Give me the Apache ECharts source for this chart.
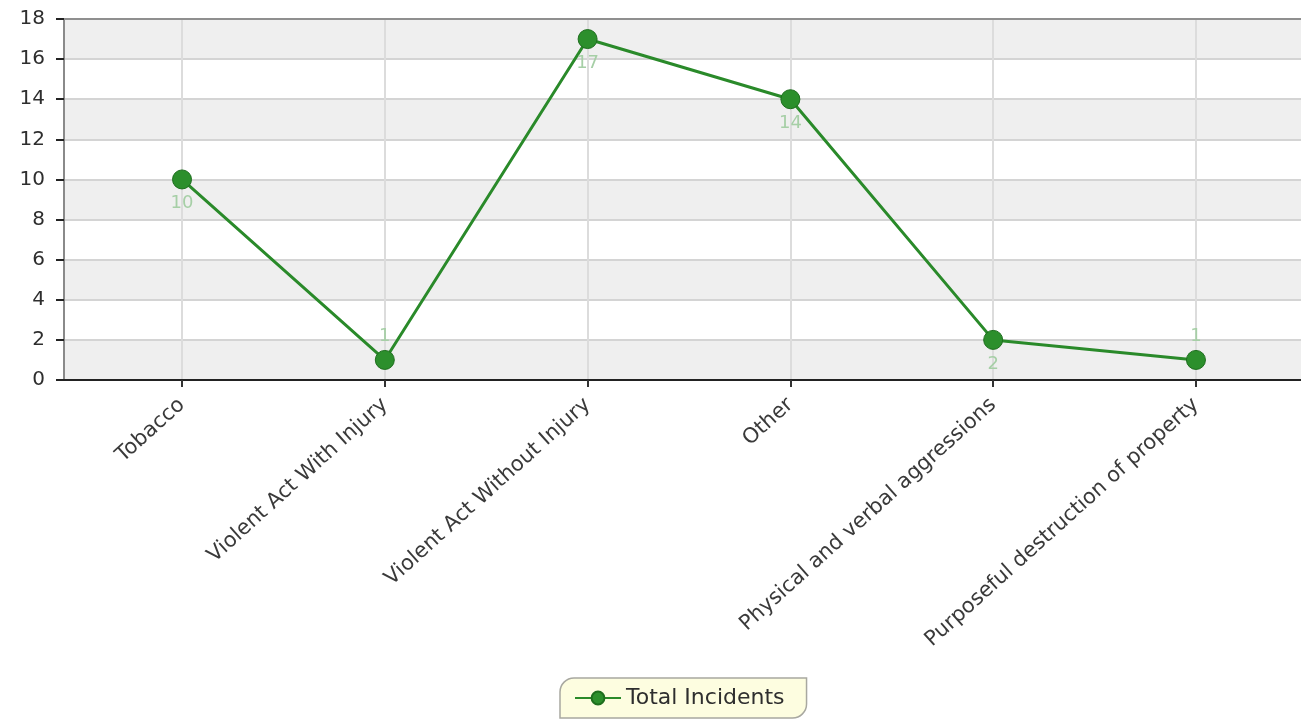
<!DOCTYPE html>
<html>
<head>
<meta charset="utf-8">
<title>Total Incidents</title>
<script src="https://cdn.jsdelivr.net/npm/echarts@6/dist/echarts.min.js"></script>
<style>
  html, body { margin: 0; padding: 0; background: #fff; }
  #chart { width: 1301px; height: 721px; }
</style>
</head>
<body>
<div id="chart"></div>
<script>
// Incident categories and counts
const categories = [
  'Tobacco',
  'Violent Act With Injury',
  'Violent Act Without Injury',
  'Other',
  'Physical and verbal aggressions',
  'Purposeful destruction of property'
];
const totalIncidents = [10, 1, 17, 14, 2, 1];
const labelPlacement = ['bottom', 'top', 'bottom', 'bottom', 'bottom', 'top'];
const yTicks = [0, 2, 4, 6, 8, 10, 12, 14, 16, 18];
const seriesName = 'Total Incidents';

const catIndex = categories.map((_, i) => i);
const seriesData = totalIncidents.map((v, i) => ({
  value: [i, v],
  label: { position: labelPlacement[i] }
}));

const FONT = 'DejaVu Sans, Verdana, sans-serif';
const chart = echarts.init(document.getElementById('chart'), null, { renderer: 'canvas' });

chart.setOption({
  animation: false,
  backgroundColor: '#ffffff',
  textStyle: { fontFamily: FONT },
  grid: { left: 64, right: 0, top: 19, bottom: 341, containLabel: false },
  xAxis: {
    type: 'value',
    min: -0.582,
    max: 5.518,
    axisLine: { show: true, onZero: false, lineStyle: { color: '#222', width: 2 } },
    axisTick: { show: true, customValues: catIndex, length: 7, lineStyle: { color: '#333', width: 2 } },
    axisLabel: {
      customValues: catIndex,
      rotate: 42,
      margin: 22,
      color: '#3a3a3a',
      fontSize: 21,
      fontFamily: FONT,
      formatter: v => categories[Math.round(v)] || ''
    },
    splitLine: { show: true, lineStyle: { color: '#dcdcdc', width: 2 } }
  },
  yAxis: {
    type: 'value',
    min: 0,
    max: 18,
    interval: 2,
    axisLine: { show: true, onZero: false, lineStyle: { color: '#8a8a8a', width: 2 } },
    axisTick: { show: true, inside: false, length: 8, lineStyle: { color: '#222', width: 2 } },
    axisLabel: {
      color: '#2e2e2e',
      fontSize: 20,
      fontFamily: FONT,
      margin: 19,
      customValues: yTicks
    },
    splitLine: { show: true, lineStyle: { color: '#d4d4d4', width: 2 } },
    splitArea: { show: true, areaStyle: { color: ['#efefef', '#ffffff'] } }
  },
  graphic: [{
    type: 'line',
    z: 5,
    shape: { x1: 64, y1: 19, x2: 1301, y2: 19 },
    style: { stroke: '#8f8f8f', lineWidth: 2 }
  }],
  legend: {
    data: [seriesName],
    bottom: 3,
    left: 560,
    backgroundColor: '#fdfde0',
    borderColor: '#a8a8a0',
    borderWidth: 1.5,
    borderRadius: [14, 0, 14, 0],
    padding: [9, 22, 9, 14],
    itemWidth: 46,
    itemHeight: 16,
    itemGap: 8,
    textStyle: { color: '#2e2e2e', fontSize: 22, fontFamily: FONT }
  },
  series: [{
    name: seriesName,
    type: 'line',
    data: seriesData,
    symbol: 'circle',
    symbolSize: 19,
    lineStyle: { color: '#2a8a2a', width: 3 },
    itemStyle: { color: '#2c8f2c', borderColor: '#1e6e1e', borderWidth: 1 },
    label: {
      show: true,
      color: '#a6cfa6',
      fontSize: 18,
      fontFamily: FONT,
      distance: 5,
      formatter: p => p.value[1]
    }
  }]
});
</script>
</body>
</html>
